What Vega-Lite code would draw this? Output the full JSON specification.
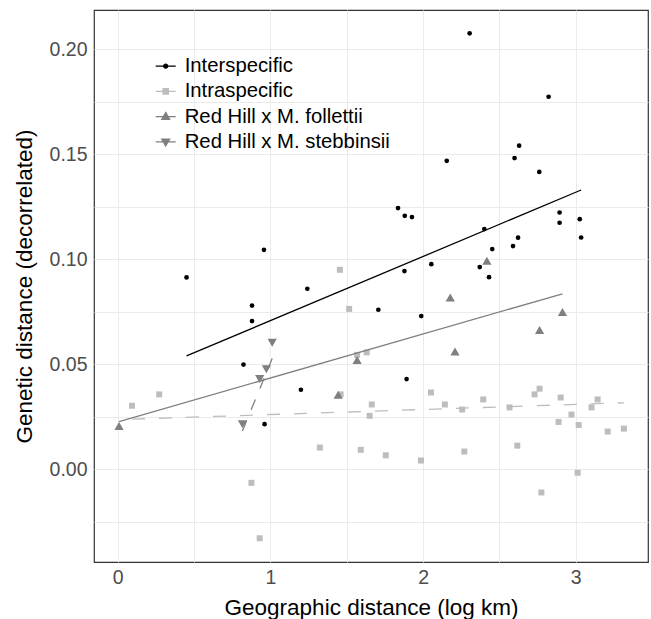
{
  "$schema": "https://vega.github.io/schema/vega-lite/v6.json",
  "width": 554,
  "height": 552,
  "autosize": {"type": "none"},
  "padding": {"left": 94, "top": 10, "right": 3, "bottom": 57},
  "background": "white",
  "config": {
    "view": {"stroke": "#333333", "strokeWidth": 1.2},
    "font": "Liberation Sans"
  },
  "datasets": {
    "pts": [
      {"group": "Interspecific", "x": 2.305, "y": 0.2075},
      {"group": "Interspecific", "x": 2.822, "y": 0.1773},
      {"group": "Interspecific", "x": 2.629, "y": 0.154},
      {"group": "Interspecific", "x": 2.599, "y": 0.1481},
      {"group": "Interspecific", "x": 2.155, "y": 0.1468},
      {"group": "Interspecific", "x": 2.761, "y": 0.1415},
      {"group": "Interspecific", "x": 1.836, "y": 0.1243},
      {"group": "Interspecific", "x": 1.88, "y": 0.1206},
      {"group": "Interspecific", "x": 1.927, "y": 0.12},
      {"group": "Interspecific", "x": 2.894, "y": 0.1222},
      {"group": "Interspecific", "x": 2.894, "y": 0.1173},
      {"group": "Interspecific", "x": 3.026, "y": 0.119},
      {"group": "Interspecific", "x": 2.401, "y": 0.1143},
      {"group": "Interspecific", "x": 2.622, "y": 0.1102},
      {"group": "Interspecific", "x": 2.589, "y": 0.1062},
      {"group": "Interspecific", "x": 3.035, "y": 0.1103},
      {"group": "Interspecific", "x": 2.453, "y": 0.1048},
      {"group": "Interspecific", "x": 0.958, "y": 0.1044},
      {"group": "Interspecific", "x": 0.451, "y": 0.0913},
      {"group": "Interspecific", "x": 2.054, "y": 0.0976},
      {"group": "Interspecific", "x": 1.878, "y": 0.0943},
      {"group": "Interspecific", "x": 2.371, "y": 0.0962},
      {"group": "Interspecific", "x": 2.432, "y": 0.0914},
      {"group": "Interspecific", "x": 1.242, "y": 0.0859},
      {"group": "Interspecific", "x": 0.88, "y": 0.0779},
      {"group": "Interspecific", "x": 0.88, "y": 0.0705},
      {"group": "Interspecific", "x": 1.707, "y": 0.0759},
      {"group": "Interspecific", "x": 1.988, "y": 0.0729},
      {"group": "Interspecific", "x": 0.824, "y": 0.0498},
      {"group": "Interspecific", "x": 1.2, "y": 0.0378},
      {"group": "Interspecific", "x": 1.892, "y": 0.0429},
      {"group": "Interspecific", "x": 0.962, "y": 0.0214},
      {"group": "Intraspecific", "x": 0.094, "y": 0.0302},
      {"group": "Intraspecific", "x": 0.272, "y": 0.0356},
      {"group": "Intraspecific", "x": 0.876, "y": -0.0065},
      {"group": "Intraspecific", "x": 0.93, "y": -0.0329},
      {"group": "Intraspecific", "x": 1.324, "y": 0.0103},
      {"group": "Intraspecific", "x": 1.455, "y": 0.0949},
      {"group": "Intraspecific", "x": 1.46, "y": 0.0356},
      {"group": "Intraspecific", "x": 1.516, "y": 0.0763},
      {"group": "Intraspecific", "x": 1.568, "y": 0.0544},
      {"group": "Intraspecific", "x": 1.592, "y": 0.0092},
      {"group": "Intraspecific", "x": 1.631, "y": 0.0556},
      {"group": "Intraspecific", "x": 1.65, "y": 0.0254},
      {"group": "Intraspecific", "x": 1.664, "y": 0.0308},
      {"group": "Intraspecific", "x": 1.756, "y": 0.0066},
      {"group": "Intraspecific", "x": 1.986, "y": 0.0041},
      {"group": "Intraspecific", "x": 2.052, "y": 0.0365},
      {"group": "Intraspecific", "x": 2.143, "y": 0.0308},
      {"group": "Intraspecific", "x": 2.256, "y": 0.0284},
      {"group": "Intraspecific", "x": 2.27, "y": 0.0084},
      {"group": "Intraspecific", "x": 2.394, "y": 0.0332},
      {"group": "Intraspecific", "x": 2.566, "y": 0.0294},
      {"group": "Intraspecific", "x": 2.617, "y": 0.0112},
      {"group": "Intraspecific", "x": 2.73, "y": 0.0356},
      {"group": "Intraspecific", "x": 2.763, "y": 0.0383},
      {"group": "Intraspecific", "x": 2.775, "y": -0.0111},
      {"group": "Intraspecific", "x": 2.887, "y": 0.0225},
      {"group": "Intraspecific", "x": 2.901, "y": 0.0341},
      {"group": "Intraspecific", "x": 2.972, "y": 0.026},
      {"group": "Intraspecific", "x": 3.012, "y": -0.0017},
      {"group": "Intraspecific", "x": 3.019, "y": 0.021},
      {"group": "Intraspecific", "x": 3.103, "y": 0.0294},
      {"group": "Intraspecific", "x": 3.143, "y": 0.0332},
      {"group": "Intraspecific", "x": 3.209, "y": 0.0179},
      {"group": "Intraspecific", "x": 3.315, "y": 0.0193},
      {"group": "Red Hill x M. follettii", "x": 2.418, "y": 0.0992},
      {"group": "Red Hill x M. follettii", "x": 2.178, "y": 0.0817},
      {"group": "Red Hill x M. follettii", "x": 2.913, "y": 0.0748},
      {"group": "Red Hill x M. follettii", "x": 2.763, "y": 0.0662},
      {"group": "Red Hill x M. follettii", "x": 2.209, "y": 0.056},
      {"group": "Red Hill x M. follettii", "x": 1.568, "y": 0.052},
      {"group": "Red Hill x M. follettii", "x": 1.444, "y": 0.0354},
      {"group": "Red Hill x M. follettii", "x": 0.009, "y": 0.0206},
      {"group": "Red Hill x M. stebbinsii", "x": 1.012, "y": 0.0602},
      {"group": "Red Hill x M. stebbinsii", "x": 0.974, "y": 0.0476},
      {"group": "Red Hill x M. stebbinsii", "x": 0.93, "y": 0.0429},
      {"group": "Red Hill x M. stebbinsii", "x": 0.817, "y": 0.0214}
    ],
    "fits": [
      {"group": "Interspecific", "x": 0.451, "y": 0.0539},
      {"group": "Interspecific", "x": 3.035, "y": 0.1329},
      {"group": "Intraspecific", "x": 0.094, "y": 0.0238},
      {"group": "Intraspecific", "x": 3.315, "y": 0.0316},
      {"group": "Red Hill x M. follettii", "x": 0.009, "y": 0.0226},
      {"group": "Red Hill x M. follettii", "x": 2.913, "y": 0.0835},
      {"group": "Red Hill x M. stebbinsii", "x": 0.817, "y": 0.0182},
      {"group": "Red Hill x M. stebbinsii", "x": 1.012, "y": 0.0527}
    ]
  },
  "layer": [
    {
      "data": {"name": "pts"},
      "transform": [{"filter": "datum.group === 'Intraspecific'"}],
      "mark": {"type": "point", "shape": "square", "size": 36, "filled": true, "opacity": 1, "strokeWidth": 0},
      "encoding": {
        "x": {
          "field": "x", "type": "quantitative",
          "scale": {"domain": [-0.155, 3.473], "nice": false, "zero": false},
          "title": "Geographic distance (log km)",
          "axis": {
            "values": [0, 0.5, 1, 1.5, 2, 2.5, 3],
            "labelExpr": "datum.value % 1 === 0 ? format(datum.value, 'd') : ''",
            "ticks": false, "domain": false,
            "grid": true, "gridColor": "#EBEBEB", "gridWidth": 1,
            "labelFont": "Liberation Sans", "labelFontSize": 19.5, "labelColor": "#4D4D4D", "labelPadding": 6,
            "titleFont": "Liberation Sans", "titleFontSize": 22.5, "titleFontWeight": "normal", "titleColor": "#000000",
            "titleBaseline": "alphabetic", "titleY": 52
          }
        },
        "y": {
          "field": "y", "type": "quantitative",
          "scale": {"domain": [-0.0442, 0.2186], "nice": false, "zero": false},
          "title": "Genetic distance (decorrelated)",
          "axis": {
            "values": [-0.025, 0, 0.025, 0.05, 0.075, 0.1, 0.125, 0.15, 0.175, 0.2],
            "labelExpr": "abs(round(datum.value * 1000)) % 50 === 0 ? format(datum.value, '.2f') : ''",
            "ticks": false, "domain": false,
            "grid": true, "gridColor": "#EBEBEB", "gridWidth": 1,
            "labelFont": "Liberation Sans", "labelFontSize": 19.5, "labelColor": "#4D4D4D", "labelPadding": 7,
            "titleFont": "Liberation Sans", "titleFontSize": 22.5, "titleFontWeight": "normal", "titleColor": "#000000",
            "titleAngle": 270, "titleBaseline": "alphabetic", "titleX": -63
          }
        },
        "color": {
          "field": "group", "type": "nominal",
          "scale": {
            "domain": ["Interspecific", "Intraspecific", "Red Hill x M. follettii", "Red Hill x M. stebbinsii"],
            "range": ["#000000", "#BDBDBD", "#7F7F7F", "#7F7F7F"]
          },
          "legend": {
            "orient": "none", "legendX": 60.7, "legendY": 45.2,
            "title": null, "padding": 0,
            "symbolSize": 400, "symbolStrokeWidth": 1.2, "symbolOpacity": 1,
            "labelFont": "Liberation Sans", "labelFontSize": 20.3, "labelColor": "#000000",
            "labelOffset": 8, "rowPadding": 3.2, "labelLimit": 400
          }
        }
      }
    },
    {
      "data": {"name": "pts"},
      "transform": [{"filter": "datum.group === 'Interspecific'"}],
      "mark": {"type": "point", "shape": "circle", "size": 22, "filled": true, "opacity": 1, "strokeWidth": 0},
      "encoding": {
        "x": {"field": "x", "type": "quantitative"},
        "y": {"field": "y", "type": "quantitative"},
        "color": {"field": "group", "type": "nominal"}
      }
    },
    {
      "data": {"name": "pts"},
      "transform": [{"filter": "datum.group === 'Red Hill x M. follettii'"}],
      "mark": {"type": "point", "shape": "triangle-up", "size": 85, "filled": true, "opacity": 1, "strokeWidth": 0},
      "encoding": {
        "x": {"field": "x", "type": "quantitative"},
        "y": {"field": "y", "type": "quantitative"},
        "color": {"field": "group", "type": "nominal"}
      }
    },
    {
      "data": {"name": "pts"},
      "transform": [{"filter": "datum.group === 'Red Hill x M. stebbinsii'"}],
      "mark": {"type": "point", "shape": "triangle-down", "size": 85, "filled": true, "opacity": 1, "strokeWidth": 0},
      "encoding": {
        "x": {"field": "x", "type": "quantitative"},
        "y": {"field": "y", "type": "quantitative"},
        "color": {"field": "group", "type": "nominal"}
      }
    },
    {
      "data": {"name": "fits"},
      "transform": [{"filter": "datum.group === 'Interspecific' || datum.group === 'Red Hill x M. follettii'"}],
      "mark": {"type": "line", "strokeWidth": 1.3},
      "encoding": {
        "x": {"field": "x", "type": "quantitative"},
        "y": {"field": "y", "type": "quantitative"},
        "color": {"field": "group", "type": "nominal"}
      }
    },
    {
      "data": {"name": "fits"},
      "transform": [{"filter": "datum.group === 'Intraspecific'"}],
      "mark": {"type": "line", "strokeWidth": 1.3, "strokeDash": [13, 14]},
      "encoding": {
        "x": {"field": "x", "type": "quantitative"},
        "y": {"field": "y", "type": "quantitative"},
        "color": {"field": "group", "type": "nominal"}
      }
    },
    {
      "data": {"name": "fits"},
      "transform": [{"filter": "datum.group === 'Red Hill x M. stebbinsii'"}],
      "mark": {"type": "line", "strokeWidth": 1.3, "strokeDash": [11, 12]},
      "encoding": {
        "x": {"field": "x", "type": "quantitative"},
        "y": {"field": "y", "type": "quantitative"},
        "color": {"field": "group", "type": "nominal"}
      }
    },
    {
      "data": {"name": "pts"},
      "transform": [{"filter": "false"}],
      "mark": {"type": "point", "filled": true, "opacity": 1, "size": 400, "strokeWidth": 1.2},
      "encoding": {
        "color": {"field": "group", "type": "nominal"},
        "shape": {
          "field": "group", "type": "nominal",
          "scale": {
            "domain": ["Interspecific", "Intraspecific", "Red Hill x M. follettii", "Red Hill x M. stebbinsii"],
            "range": [
              "M-1,0L1,0M-0.2,0A0.2,0.2,0,1,0,0.2,0A0.2,0.2,0,1,0,-0.2,0Z",
              "M-1,0L1,0M-0.27,-0.27L0.27,-0.27L0.27,0.27L-0.27,0.27Z",
              "M-1,0L1,0M0,-0.42L0.4,0.27L-0.4,0.27Z",
              "M-1,0L1,0M0,0.42L0.4,-0.27L-0.4,-0.27Z"
            ]
          }
        }
      }
    }
  ]
}
